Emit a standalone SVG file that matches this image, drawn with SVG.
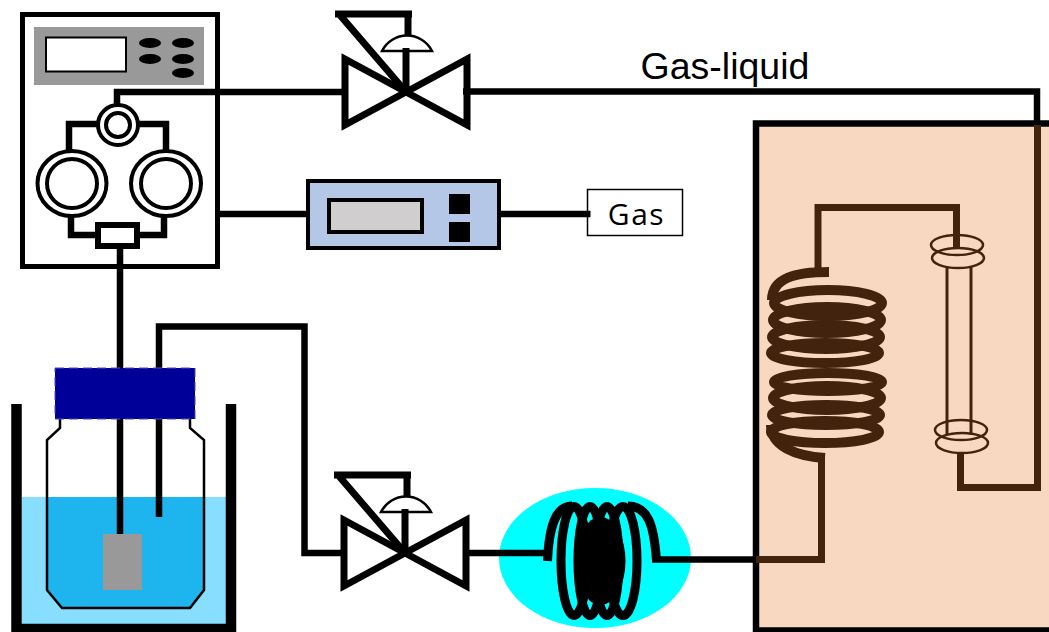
<svg xmlns="http://www.w3.org/2000/svg" width="1049" height="632" viewBox="0 0 1049 632">
<style>
.k{fill:none;stroke:#000;stroke-width:6.500}
.b{fill:none;stroke:#42240e;stroke-width:7}
.c{fill:none;stroke:#42240e;stroke-width:10}
.r{fill:none;stroke:#42240e;stroke-width:2.500}
.v{fill:none;stroke:#000;stroke-width:7}
.h{fill:none;stroke:#000;stroke-width:9}
.t{font-family:"Open Sans","Liberation Sans",sans-serif;fill:#000}
</style>
<defs>
<g id="valve">
<path d="M-61 -33V33L61 -33V33Z" class="v"/>
<path d="M-71 -78H6M2 -78V-52M-67 -78L0 0" class="v"/>
<path d="M-24 -41A28 28 0 0 1 26 -41Z" fill="#fff" stroke="#000" stroke-width="2.500"/>
<path d="M0 -44V0" class="v"/>
</g>
</defs>
<rect id="furnace" x="756" y="123.500" width="300" height="507" fill="#f8d8c0" stroke="#000" stroke-width="6.500"/>
<g id="bath">
<rect x="22" y="497" width="204" height="129" fill="#87deff"/>
<path d="M60 497H47V590L62 608H190L204 590V497Z" fill="#1eb4ee"/>
<path d="M60 418V428L47 440V590L62 608H190L204 590V440L190 428V418" fill="none" stroke="#000" stroke-width="2.500"/>
<path d="M16.500 404V629H231V404" fill="none" stroke="#000" stroke-width="10.500"/>
</g>
<g id="gas"><rect x="587.500" y="189.500" width="95" height="46" fill="#fff" stroke="#000" stroke-width="1.500"/>
<text class="t" x="636.500" y="225" font-size="30" letter-spacing="1.500" text-anchor="middle">Gas</text></g>
<ellipse id="preheater-bath" cx="595" cy="558" rx="96" ry="70" fill="#0ff"/>
<g id="connectors">
<path class="k" d="M117 106V92H345M463 91.500H1037V121M120 249V368M218 214H306M501 214H590.500M159 368V326.500H304.500V553H345M468 553H547M652 559.500H756"/>
<path class="k" d="M120 368V534M159 419V517"/>
<path class="b" d="M756 559.500H821.500V456M818 272V207.500H956.500V248M960.500 452V487.500H1037.500V125"/>
</g>
<g id="cap"><rect x="55" y="368" width="140" height="51" fill="#009" stroke="#4a4ac4" stroke-width="1" stroke-dasharray="9 5"/></g>
<rect id="stirrer" x="103" y="534" width="39" height="56" fill="#999"/>
<g id="pump">
<rect x="22.500" y="14.500" width="195" height="252" fill="none" stroke="#000" stroke-width="5"/>
<rect x="34" y="27" width="170" height="58" fill="#999"/>
<rect x="46" y="37.500" width="80" height="34" fill="#fff" stroke="#000" stroke-width="2"/>
<g fill="#000"><ellipse cx="150" cy="43" rx="11" ry="5"/><ellipse cx="183" cy="43" rx="11" ry="5"/><ellipse cx="150" cy="59" rx="11" ry="5"/><ellipse cx="183" cy="59" rx="11" ry="5"/><ellipse cx="183" cy="73" rx="11" ry="5"/></g>
<path class="k" d="M98 124H69V155M138 124H166V155M71 210V235H96M164 210V235H140"/>
<circle cx="118" cy="125" r="20" fill="#fff" stroke="#000" stroke-width="4"/>
<circle cx="118" cy="125" r="12" fill="#fff" stroke="#000" stroke-width="4"/>
<g fill="#fff" stroke="#000" stroke-width="4">
<ellipse cx="72" cy="183.500" rx="34.500" ry="32.500"/><ellipse cx="72" cy="183.500" rx="25" ry="24.500"/>
<ellipse cx="166" cy="183.500" rx="35" ry="32.500"/><ellipse cx="166" cy="183.500" rx="25" ry="24.500"/></g>
<rect x="98" y="225" width="39" height="21" fill="#fff" stroke="#000" stroke-width="6"/>
</g>
<use id="valve-top" href="#valve" x="406" y="92"/>
<use id="valve-bottom" href="#valve" x="405" y="553"/>
<g id="flowmeter">
<rect x="308" y="181" width="191" height="67" fill="#b4c7e7" stroke="#000" stroke-width="4"/>
<rect x="329" y="200" width="93" height="32" fill="#d0cece" stroke="#000" stroke-width="4"/>
<rect x="449" y="194" width="21" height="20"/><rect x="449" y="222" width="21" height="20"/>
</g>
<text id="label" x="725" y="79" font-size="37.500" font-family="'Liberation Sans',Arial,sans-serif" text-anchor="middle">Gas-liquid</text>
<g id="preheater">
<ellipse class="h" cx="574" cy="561" rx="13" ry="54.500"/><ellipse class="h" cx="590" cy="561" rx="12" ry="54.500"/><ellipse class="h" cx="607" cy="561" rx="12" ry="54.500"/><ellipse class="h" cx="623" cy="561" rx="14" ry="54.500"/>
<path class="h" d="M547.500 561C549 525 556 506 572 506M656.500 561C654 525 648 506 628 506"/>
<ellipse cx="600.500" cy="561" rx="25" ry="44"/>
</g>
<g id="coil">
<path class="c" d="M829 272C795 272 772 278 772 300M825 458C795 456 771 446 771 425"/>
<ellipse class="c" cx="828" cy="303" rx="54" ry="13"/><ellipse class="c" cx="827" cy="320" rx="54" ry="13"/><ellipse class="c" cx="826" cy="337" rx="54" ry="12"/><ellipse class="c" cx="825" cy="353" rx="54" ry="10"/>
<ellipse class="c" cx="828" cy="382" rx="54" ry="9"/><ellipse class="c" cx="827" cy="398" rx="54" ry="12"/><ellipse class="c" cx="826" cy="415" rx="54" ry="10"/><ellipse class="c" cx="825" cy="432" rx="54" ry="11"/>
</g>
<g id="column">
<path d="M947 266V435M971 266V435" fill="none" stroke="#42240e" stroke-width="3"/>
<ellipse class="r" cx="957" cy="245" rx="26" ry="10"/><ellipse class="r" cx="958" cy="258" rx="26" ry="10"/>
<ellipse class="r" cx="961" cy="430" rx="26" ry="10"/><ellipse class="r" cx="962" cy="443" rx="26" ry="10"/>
</g>
</svg>
